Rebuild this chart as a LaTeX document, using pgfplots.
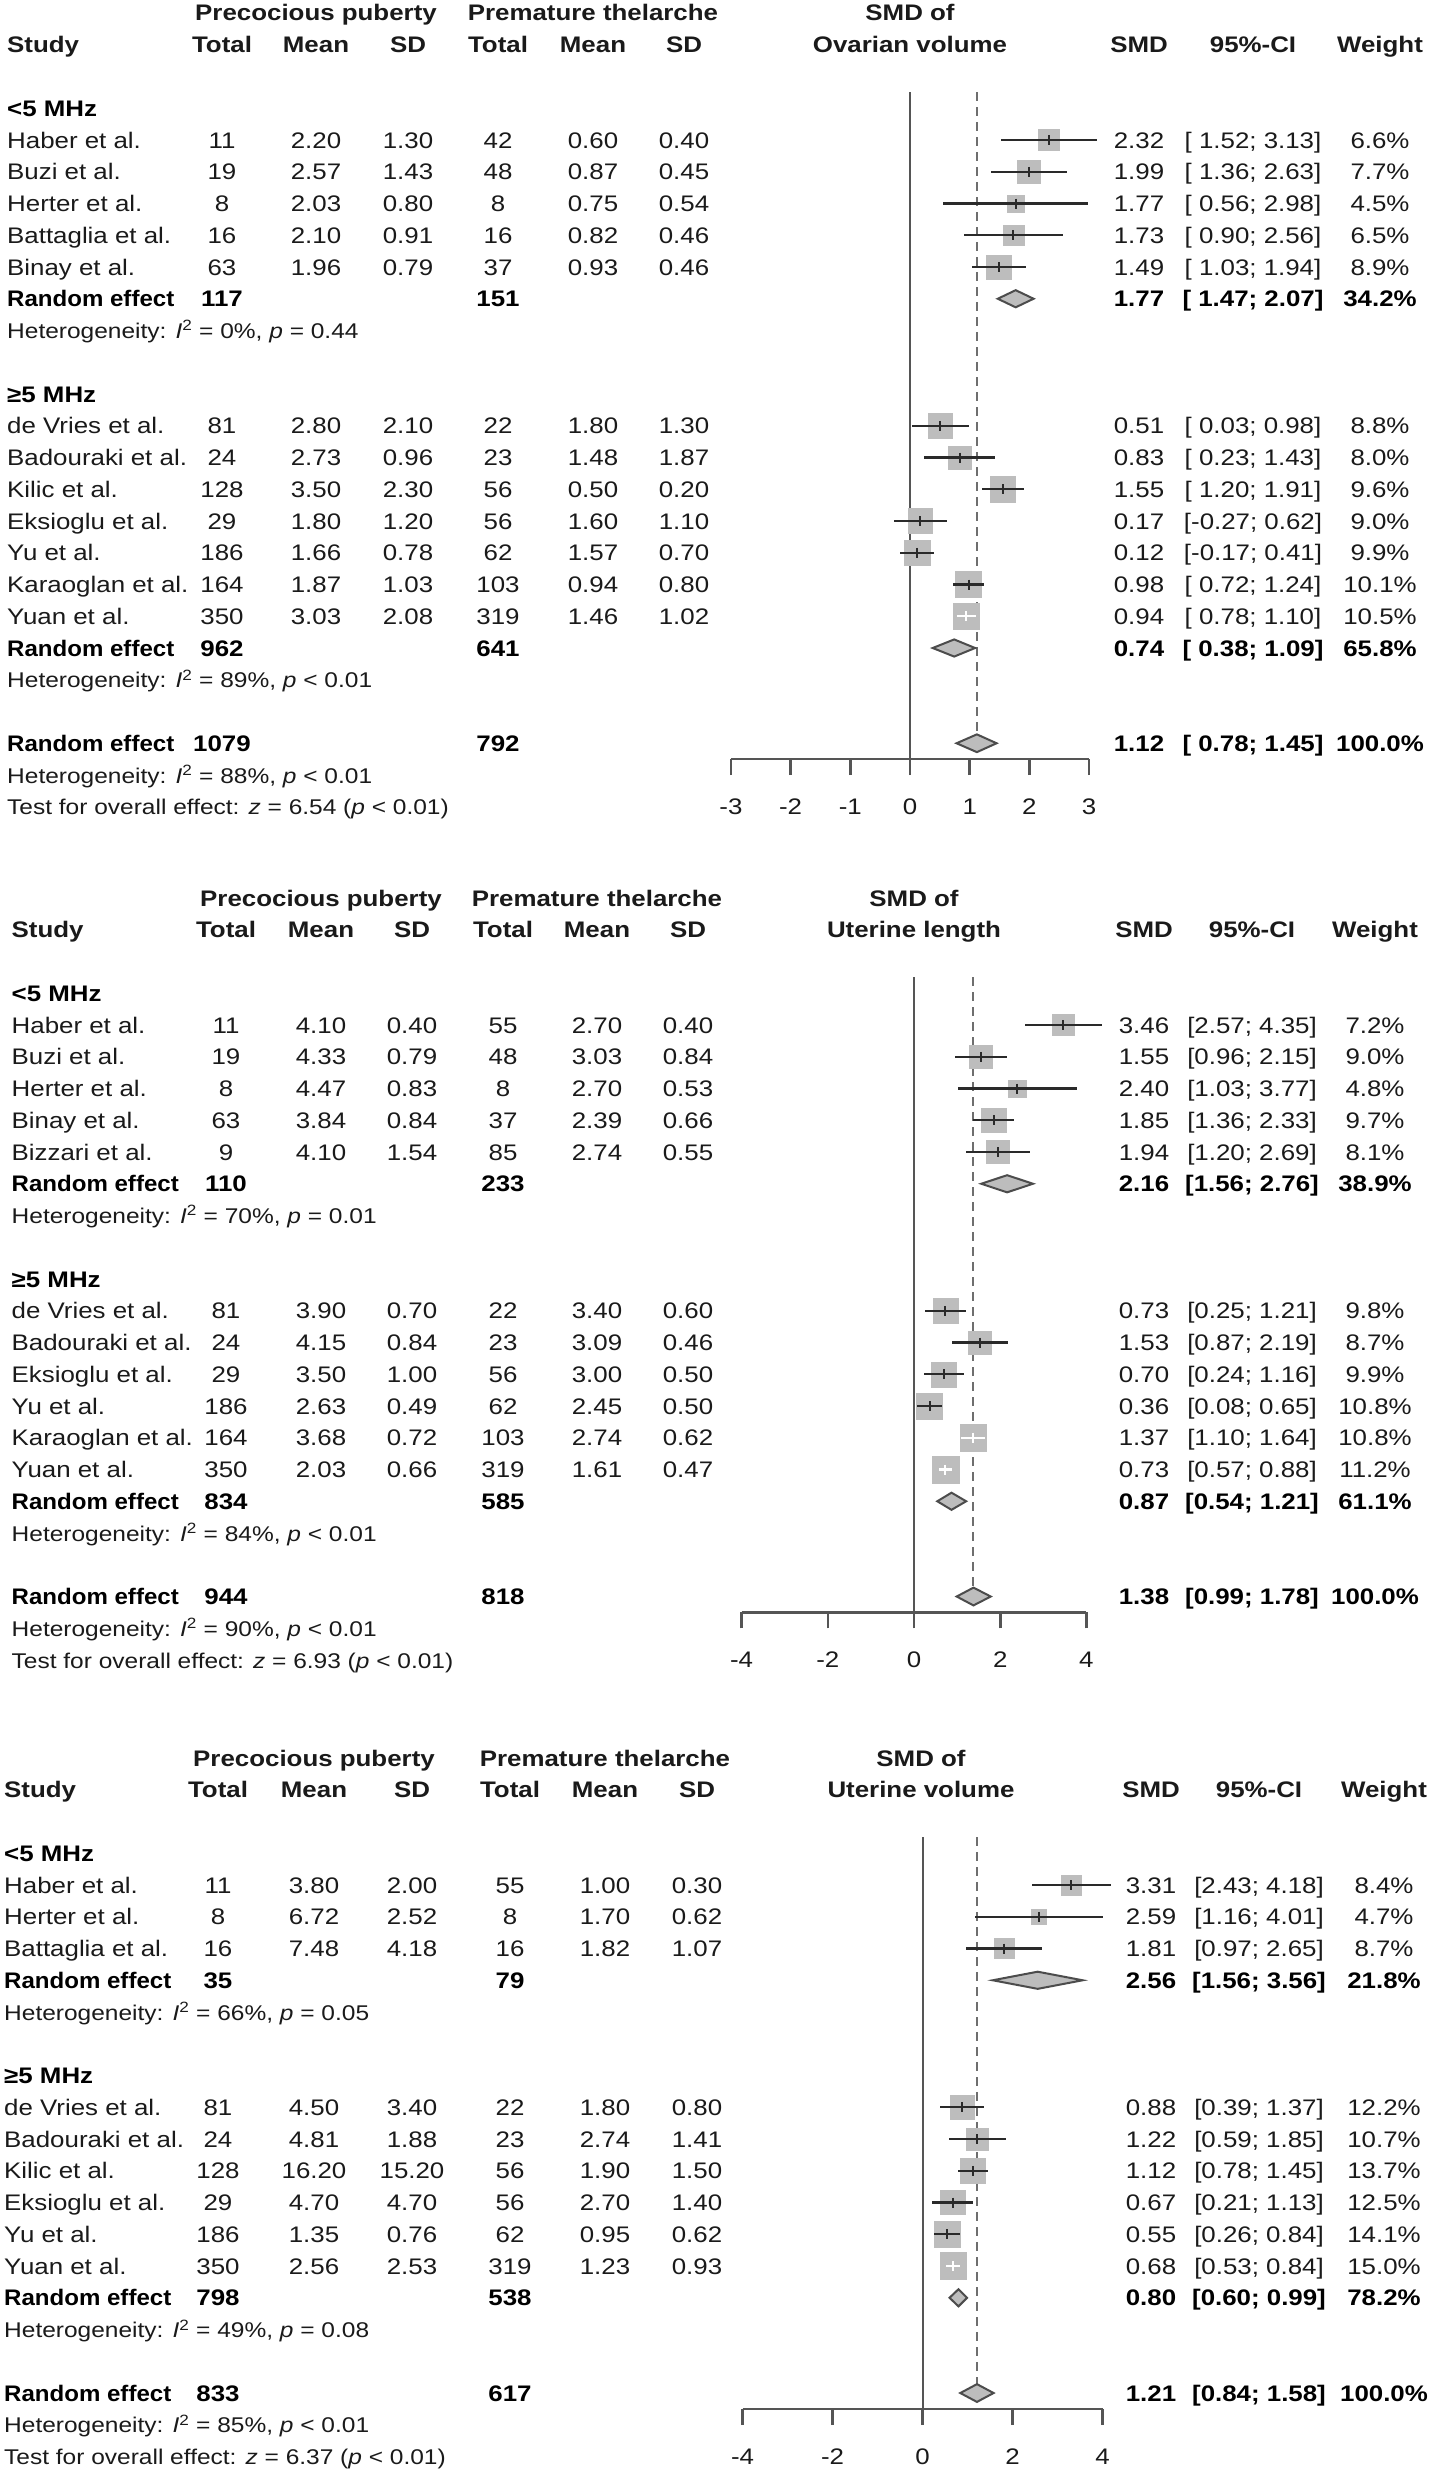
\documentclass[border=0pt]{standalone}
\usepackage{pgfplots}
\pgfplotsset{compat=1.18}
\usepackage{pgfplotstable}
\usepackage{graphicx}
\usepackage{fontspec}
\setmainfont{Liberation Sans}[FakeStretch=1.15]

\definecolor{sqgray}{HTML}{BDBDBD}
\definecolor{axgray}{HTML}{555555}
\definecolor{cigray}{HTML}{2A2A2A}
\definecolor{txt}{HTML}{1A1A1A}

\newcommand\fs{\fontsize{22.5}{28}\selectfont}
\newcommand\fh{\fontsize{21.3}{27}\selectfont}
\def\rs{31.75}
% baseline of row #1 of the current panel
\newcommand\Y[1]{-(\rz+#1*\rs+8)}

% column positions of the current panel
\newcommand\setleft[8]{\def\rz{#1}\def\cL{#2}\def\cA{#3}\def\cB{#4}\def\cC{#5}\def\cD{#6}\def\cE{#7}\def\cF{#8}}
\newcommand\setright[4]{\def\cP{#1}\def\cG{#2}\def\cH{#3}\def\cI{#4}}

\newcommand\hdr[1]{%
  \node[anchor=base,font=\fs\bfseries] at (\cB,{\Y{0}}) {Precocious puberty};
  \node[anchor=base,font=\fs\bfseries] at (\cE,{\Y{0}}) {Premature thelarche};
  \node[anchor=base,font=\fs\bfseries] at (\cP,{\Y{0}}) {SMD of};
  \node[anchor=base west,font=\fs\bfseries] at (\cL,{\Y{1}}) {Study};
  \node[anchor=base,font=\fs\bfseries] at (\cA,{\Y{1}}) {Total};
  \node[anchor=base,font=\fs\bfseries] at (\cB,{\Y{1}}) {Mean};
  \node[anchor=base,font=\fs\bfseries] at (\cC,{\Y{1}}) {SD};
  \node[anchor=base,font=\fs\bfseries] at (\cD,{\Y{1}}) {Total};
  \node[anchor=base,font=\fs\bfseries] at (\cE,{\Y{1}}) {Mean};
  \node[anchor=base,font=\fs\bfseries] at (\cF,{\Y{1}}) {SD};
  \node[anchor=base,font=\fs\bfseries] at (\cP,{\Y{1}}) {#1};
  \node[anchor=base,font=\fs\bfseries] at (\cG,{\Y{1}}) {SMD};
  \node[anchor=base,font=\fs\bfseries] at (\cH,{\Y{1}}) {95\%-CI};
  \node[anchor=base,font=\fs\bfseries] at (\cI,{\Y{1}}) {Weight};}

\newcommand\lrow[8]{%
  \node[anchor=base west] at (\cL,{\Y{#1}}) {#2};
  \node[anchor=base] at (\cA,{\Y{#1}}) {#3};
  \node[anchor=base] at (\cB,{\Y{#1}}) {#4};
  \node[anchor=base] at (\cC,{\Y{#1}}) {#5};
  \node[anchor=base] at (\cD,{\Y{#1}}) {#6};
  \node[anchor=base] at (\cE,{\Y{#1}}) {#7};
  \node[anchor=base] at (\cF,{\Y{#1}}) {#8};}
\newcommand\rrow[4]{%
  \node[anchor=base] at (\cG,{\Y{#1}}) {#2};
  \node[anchor=base] at (\cH,{\Y{#1}}) {#3};
  \node[anchor=base] at (\cI,{\Y{#1}}) {#4};}
\newcommand\rerow[6]{%
  \node[anchor=base west,font=\fs\bfseries,text=black] at (\cL,{\Y{#1}}) {\scalebox{0.93}[1]{Random effect}};
  \node[anchor=base,font=\fs\bfseries,text=black] at (\cA,{\Y{#1}}) {#2};
  \node[anchor=base,font=\fs\bfseries,text=black] at (\cD,{\Y{#1}}) {#3};
  \node[anchor=base,font=\fs\bfseries,text=black] at (\cG,{\Y{#1}}) {#4};
  \node[anchor=base,font=\fs\bfseries,text=black] at (\cH,{\Y{#1}}) {#5};
  \node[anchor=base,font=\fs\bfseries,text=black] at (\cI,{\Y{#1}}) {#6};}
\newcommand\grp[2]{\node[anchor=base west,font=\fs\bfseries,text=black] at (\cL,{\Y{#1}}) {#2};}
\newcommand\het[2]{\node[anchor=base west,font=\fh] at (\cL,{\Y{#1}}) {#2};}
\newcommand\hetI[3]{\het{#1}{Heterogeneity: \textit{I}\textsuperscript{2} = #2\%, \textit{p} #3}}

\pgfplotsset{
  forest/.style={
    y=31.75pt, enlargelimits=false, clip=false, clip marker paths=true,
    axis x line=bottom, axis y line=none,
    axis line style={-}, x axis line style={line width=2.6pt, draw=axgray, -},
    xtick style={line width=2.6pt, draw=axgray},
    tick align=outside, major tick length=16pt,
    xticklabels={}, ymax=-2.5, anchor=south west},
  refline/.style={line width=2pt, draw=axgray, mark=none},
  dashline/.style={line width=2pt, draw=axgray!85, dash pattern=on 9pt off 6pt, mark=none},
  diamond/.style={fill=sqgray, draw=axgray!90!black, line width=2pt, mark=none},
  cibars/.style={only marks, color=#1, mark=|, mark size=5pt,
    mark options={solid, line width=2pt, draw=#1},
    error bars/.cd, x dir=both, x explicit, error mark=none,
    error bar style={line width=2.4pt, draw=#1}},
}

% squares, CI lines and point ticks of one panel
\newcommand\studies[2]{%
  \addplot[scatter, only marks, mark=square*, point meta=\thisrow{w},
    mark options={draw=sqgray, fill=sqgray, line width=0.5pt},
    scatter/use mapped color={draw=sqgray, fill=sqgray},
    visualization depends on={13.3*sqrt(\thisrow{w}/#2) \as \ms},
    scatter/@pre marker code/.append style={/tikz/mark size=\ms}]
    table[x=smd, y expr=-\thisrow{r}] {#1};
  % CI inside the square: drawn white
  \addplot[restrict expr to domain={\thisrow{wh}}{0.5:1.5}, cibars=white]
    table[x=smd, y expr=-\thisrow{r},
      x error minus expr=\thisrow{smd}-\thisrow{lo},
      x error plus expr=\thisrow{hi}-\thisrow{smd}] {#1};
  \addplot[restrict expr to domain={\thisrow{wh}}{-0.5:0.5}, cibars=cigray]
    table[x=smd, y expr=-\thisrow{r},
      x error minus expr=\thisrow{smd}-\thisrow{lo},
      x error plus expr=\thisrow{hi}-\thisrow{smd}] {#1};}

% Ovarian volume
\pgfplotstableread{
smd lo hi w r wh
2.32 1.52 3.13 6.6 4 0
1.99 1.36 2.63 7.7 5 0
1.77 0.56 2.98 4.5 6 0
1.73 0.90 2.56 6.5 7 0
1.49 1.03 1.94 8.9 8 0
0.51 0.03 0.98 8.8 13 0
0.83 0.23 1.43 8.0 14 0
1.55 1.20 1.91 9.6 15 0
0.17 -0.27 0.62 9.0 16 0
0.12 -0.17 0.41 9.9 17 0
0.98 0.72 1.24 10.1 18 0
0.94 0.78 1.10 10.5 19 1
}\tabA
% Uterine length
\pgfplotstableread{
smd lo hi w r wh
3.46 2.57 4.35 7.2 4 0
1.55 0.96 2.15 9.0 5 0
2.40 1.03 3.77 4.8 6 0
1.85 1.36 2.33 9.7 7 0
1.94 1.20 2.69 8.1 8 0
0.73 0.25 1.21 9.8 13 0
1.53 0.87 2.19 8.7 14 0
0.70 0.24 1.16 9.9 15 0
0.36 0.08 0.65 10.8 16 0
1.37 1.10 1.64 10.8 17 1
0.73 0.57 0.88 11.2 18 1
}\tabB
% Uterine volume
\pgfplotstableread{
smd lo hi w r wh
3.31 2.43 4.18 8.4 4 0
2.59 1.16 4.01 4.7 5 0
1.81 0.97 2.65 8.7 6 0
0.88 0.39 1.37 12.2 11 0
1.22 0.59 1.85 10.7 12 0
1.12 0.78 1.45 13.7 13 0
0.67 0.21 1.13 12.5 14 0
0.55 0.26 0.84 14.1 15 0
0.68 0.53 0.84 15.0 16 1
}\tabC

\begin{document}
\begin{tikzpicture}[x=1pt, y=1pt]
\path[use as bounding box, fill=white] (0,0) rectangle (1428,-2470);
% lower left corners of the three plot areas
\coordinate (P1) at ({910-3*59.7},{-(13+23.5*31.75)});
\coordinate (P2) at ({914-4*43.1},{-(898+22.5*31.75)});
\coordinate (P3) at ({922.5-4*45},{-(1758+20.5*31.75)});

%% ---------- panel 1: ovarian volume ----------
\begin{axis}[forest, at={(P1)}, x=59.7pt, xmin=-3, xmax=3, ymin=-23.5,
  xtick={-3,-2,-1,0,1,2,3}]
  \addplot[refline] coordinates {(0,-2.5) (0,-23.5)};
  \addplot[dashline] coordinates {(1.12,-2.5) (1.12,-23)};
  \studies{\tabA}{10.5}
  \addplot[diamond] coordinates {(1.47,-9) (1.77,-8.73) (2.07,-9) (1.77,-9.27)} -- cycle;
  \addplot[diamond] coordinates {(0.38,-20) (0.74,-19.73) (1.09,-20) (0.74,-20.27)} -- cycle;
  \addplot[diamond] coordinates {(0.78,-23) (1.12,-22.72) (1.45,-23) (1.12,-23.28)} -- cycle;
  \pgfplotsinvokeforeach{-3,-2,-1,0,1,2,3}{\node[font=\fs, text=txt, anchor=base, inner sep=0pt] at (axis cs:#1,-25.25) {#1};}
\end{axis}

%% ---------- panel 2: uterine length ----------
\begin{axis}[forest, at={(P2)}, x=43.1pt, xmin=-4, xmax=4, ymin=-22.5,
  xtick={-4,-2,0,2,4}]
  \addplot[refline] coordinates {(0,-2.5) (0,-22.5)};
  \addplot[dashline] coordinates {(1.38,-2.5) (1.38,-22)};
  \studies{\tabB}{11.2}
  \addplot[diamond] coordinates {(1.56,-9) (2.16,-8.73) (2.76,-9) (2.16,-9.27)} -- cycle;
  \addplot[diamond] coordinates {(0.54,-19) (0.87,-18.73) (1.21,-19) (0.87,-19.27)} -- cycle;
  \addplot[diamond] coordinates {(0.99,-22) (1.38,-21.72) (1.78,-22) (1.38,-22.28)} -- cycle;
  \pgfplotsinvokeforeach{-4,-2,0,2,4}{\node[font=\fs, text=txt, anchor=base, inner sep=0pt] at (axis cs:#1,-24.25) {#1};}
\end{axis}

%% ---------- panel 3: uterine volume ----------
\begin{axis}[forest, at={(P3)}, x=45pt, xmin=-4, xmax=4, ymin=-20.5,
  xtick={-4,-2,0,2,4}]
  \addplot[refline] coordinates {(0,-2.5) (0,-20.5)};
  \addplot[dashline] coordinates {(1.21,-2.5) (1.21,-20)};
  \studies{\tabC}{15.0}
  \addplot[diamond] coordinates {(1.56,-7) (2.56,-6.73) (3.56,-7) (2.56,-7.27)} -- cycle;
  \addplot[diamond] coordinates {(0.60,-17) (0.80,-16.73) (0.99,-17) (0.80,-17.27)} -- cycle;
  \addplot[diamond] coordinates {(0.84,-20) (1.21,-19.72) (1.58,-20) (1.21,-20.28)} -- cycle;
  \pgfplotsinvokeforeach{-4,-2,0,2,4}{\node[font=\fs, text=txt, anchor=base, inner sep=0pt] at (axis cs:#1,-22.25) {#1};}
\end{axis}

\begin{scope}[every node/.style={font=\fs, text=txt, inner sep=0pt}]
%% panel 1 text
\setleft{13}{7}{222}{316}{408}{498}{593}{684}
\setright{910}{1139}{1253}{1380}
\hdr{Ovarian volume}
\grp{3}{<5 MHz}
\lrow{4}{Haber et al.}{11}{2.20}{1.30}{42}{0.60}{0.40}\rrow{4}{2.32}{[ 1.52; 3.13]}{6.6\%}
\lrow{5}{Buzi et al.}{19}{2.57}{1.43}{48}{0.87}{0.45}\rrow{5}{1.99}{[ 1.36; 2.63]}{7.7\%}
\lrow{6}{Herter et al.}{8}{2.03}{0.80}{8}{0.75}{0.54}\rrow{6}{1.77}{[ 0.56; 2.98]}{4.5\%}
\lrow{7}{Battaglia et al.}{16}{2.10}{0.91}{16}{0.82}{0.46}\rrow{7}{1.73}{[ 0.90; 2.56]}{6.5\%}
\lrow{8}{Binay et al.}{63}{1.96}{0.79}{37}{0.93}{0.46}\rrow{8}{1.49}{[ 1.03; 1.94]}{8.9\%}
\rerow{9}{117}{151}{1.77}{[ 1.47; 2.07]}{34.2\%}
\hetI{10}{0}{= 0.44}
\grp{12}{≥5 MHz}
\lrow{13}{de Vries et al.}{81}{2.80}{2.10}{22}{1.80}{1.30}\rrow{13}{0.51}{[ 0.03; 0.98]}{8.8\%}
\lrow{14}{Badouraki et al.}{24}{2.73}{0.96}{23}{1.48}{1.87}\rrow{14}{0.83}{[ 0.23; 1.43]}{8.0\%}
\lrow{15}{Kilic et al.}{128}{3.50}{2.30}{56}{0.50}{0.20}\rrow{15}{1.55}{[ 1.20; 1.91]}{9.6\%}
\lrow{16}{Eksioglu et al.}{29}{1.80}{1.20}{56}{1.60}{1.10}\rrow{16}{0.17}{[-0.27; 0.62]}{9.0\%}
\lrow{17}{Yu et al.}{186}{1.66}{0.78}{62}{1.57}{0.70}\rrow{17}{0.12}{[-0.17; 0.41]}{9.9\%}
\lrow{18}{Karaoglan et al.}{164}{1.87}{1.03}{103}{0.94}{0.80}\rrow{18}{0.98}{[ 0.72; 1.24]}{10.1\%}
\lrow{19}{Yuan et al.}{350}{3.03}{2.08}{319}{1.46}{1.02}\rrow{19}{0.94}{[ 0.78; 1.10]}{10.5\%}
\rerow{20}{962}{641}{0.74}{[ 0.38; 1.09]}{65.8\%}
\hetI{21}{89}{< 0.01}
\rerow{23}{1079}{792}{1.12}{[ 0.78; 1.45]}{100.0\%}
\hetI{24}{88}{< 0.01}
\het{25}{Test for overall effect: \textit{z} = 6.54 (\textit{p} < 0.01)}

%% panel 2 text
\setleft{898}{11.5}{226}{321}{412}{503}{597}{688}
\setright{914}{1144}{1252}{1375}
\hdr{Uterine length}
\grp{3}{<5 MHz}
\lrow{4}{Haber et al.}{11}{4.10}{0.40}{55}{2.70}{0.40}\rrow{4}{3.46}{[2.57; 4.35]}{7.2\%}
\lrow{5}{Buzi et al.}{19}{4.33}{0.79}{48}{3.03}{0.84}\rrow{5}{1.55}{[0.96; 2.15]}{9.0\%}
\lrow{6}{Herter et al.}{8}{4.47}{0.83}{8}{2.70}{0.53}\rrow{6}{2.40}{[1.03; 3.77]}{4.8\%}
\lrow{7}{Binay et al.}{63}{3.84}{0.84}{37}{2.39}{0.66}\rrow{7}{1.85}{[1.36; 2.33]}{9.7\%}
\lrow{8}{Bizzari et al.}{9}{4.10}{1.54}{85}{2.74}{0.55}\rrow{8}{1.94}{[1.20; 2.69]}{8.1\%}
\rerow{9}{110}{233}{2.16}{[1.56; 2.76]}{38.9\%}
\hetI{10}{70}{= 0.01}
\grp{12}{≥5 MHz}
\lrow{13}{de Vries et al.}{81}{3.90}{0.70}{22}{3.40}{0.60}\rrow{13}{0.73}{[0.25; 1.21]}{9.8\%}
\lrow{14}{Badouraki et al.}{24}{4.15}{0.84}{23}{3.09}{0.46}\rrow{14}{1.53}{[0.87; 2.19]}{8.7\%}
\lrow{15}{Eksioglu et al.}{29}{3.50}{1.00}{56}{3.00}{0.50}\rrow{15}{0.70}{[0.24; 1.16]}{9.9\%}
\lrow{16}{Yu et al.}{186}{2.63}{0.49}{62}{2.45}{0.50}\rrow{16}{0.36}{[0.08; 0.65]}{10.8\%}
\lrow{17}{Karaoglan et al.}{164}{3.68}{0.72}{103}{2.74}{0.62}\rrow{17}{1.37}{[1.10; 1.64]}{10.8\%}
\lrow{18}{Yuan et al.}{350}{2.03}{0.66}{319}{1.61}{0.47}\rrow{18}{0.73}{[0.57; 0.88]}{11.2\%}
\rerow{19}{834}{585}{0.87}{[0.54; 1.21]}{61.1\%}
\hetI{20}{84}{< 0.01}
\rerow{22}{944}{818}{1.38}{[0.99; 1.78]}{100.0\%}
\hetI{23}{90}{< 0.01}
\het{24}{Test for overall effect: \textit{z} = 6.93 (\textit{p} < 0.01)}

%% panel 3 text
\setleft{1758}{4}{218}{314}{412}{510}{605}{697}
\setright{921}{1151}{1259}{1384}
\hdr{Uterine volume}
\grp{3}{<5 MHz}
\lrow{4}{Haber et al.}{11}{3.80}{2.00}{55}{1.00}{0.30}\rrow{4}{3.31}{[2.43; 4.18]}{8.4\%}
\lrow{5}{Herter et al.}{8}{6.72}{2.52}{8}{1.70}{0.62}\rrow{5}{2.59}{[1.16; 4.01]}{4.7\%}
\lrow{6}{Battaglia et al.}{16}{7.48}{4.18}{16}{1.82}{1.07}\rrow{6}{1.81}{[0.97; 2.65]}{8.7\%}
\rerow{7}{35}{79}{2.56}{[1.56; 3.56]}{21.8\%}
\hetI{8}{66}{= 0.05}
\grp{10}{≥5 MHz}
\lrow{11}{de Vries et al.}{81}{4.50}{3.40}{22}{1.80}{0.80}\rrow{11}{0.88}{[0.39; 1.37]}{12.2\%}
\lrow{12}{Badouraki et al.}{24}{4.81}{1.88}{23}{2.74}{1.41}\rrow{12}{1.22}{[0.59; 1.85]}{10.7\%}
\lrow{13}{Kilic et al.}{128}{16.20}{15.20}{56}{1.90}{1.50}\rrow{13}{1.12}{[0.78; 1.45]}{13.7\%}
\lrow{14}{Eksioglu et al.}{29}{4.70}{4.70}{56}{2.70}{1.40}\rrow{14}{0.67}{[0.21; 1.13]}{12.5\%}
\lrow{15}{Yu et al.}{186}{1.35}{0.76}{62}{0.95}{0.62}\rrow{15}{0.55}{[0.26; 0.84]}{14.1\%}
\lrow{16}{Yuan et al.}{350}{2.56}{2.53}{319}{1.23}{0.93}\rrow{16}{0.68}{[0.53; 0.84]}{15.0\%}
\rerow{17}{798}{538}{0.80}{[0.60; 0.99]}{78.2\%}
\hetI{18}{49}{= 0.08}
\rerow{20}{833}{617}{1.21}{[0.84; 1.58]}{100.0\%}
\hetI{21}{85}{< 0.01}
\het{22}{Test for overall effect: \textit{z} = 6.37 (\textit{p} < 0.01)}
\end{scope}
\end{tikzpicture}
\end{document}
